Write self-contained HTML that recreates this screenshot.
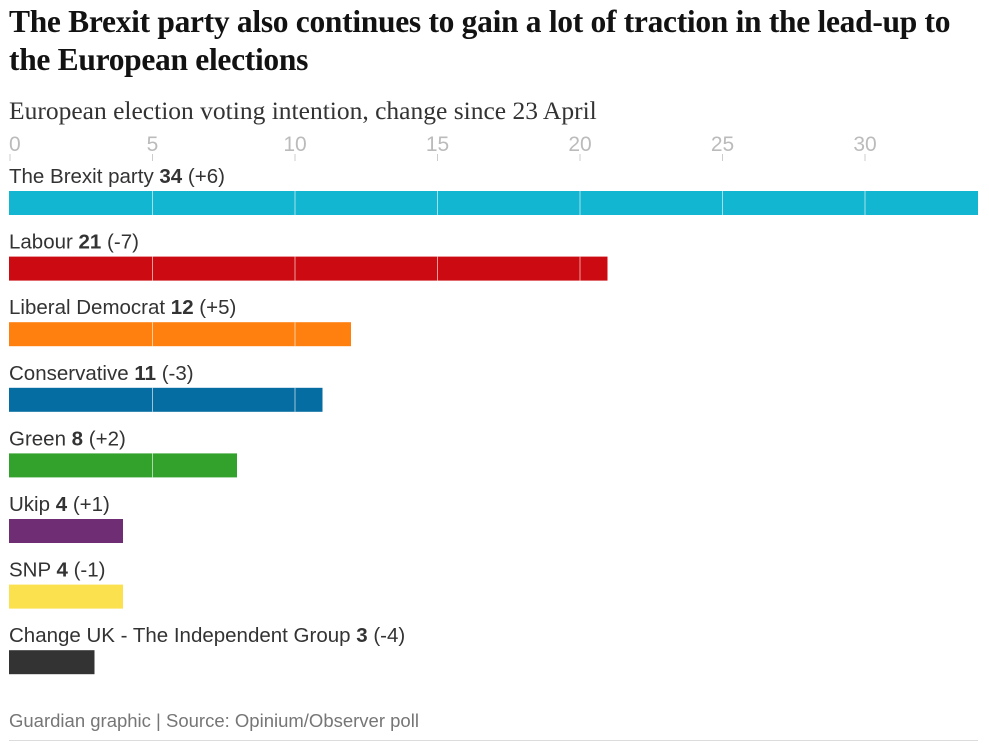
<!DOCTYPE html>
<html><head><meta charset="utf-8"><style>
body{margin:0;background:#fff;width:989px;height:747px;overflow:hidden;font-family:"Liberation Sans",sans-serif}
h1{position:absolute;left:9px;top:3px;margin:0;font-family:"Liberation Serif",serif;font-weight:bold;font-size:31.5px;line-height:38px;color:#121212;width:975px;letter-spacing:-0.3px}
.sub{position:absolute;left:9px;top:96px;font-family:"Liberation Serif",serif;font-size:25.5px;color:#333}
.foot{position:absolute;left:9px;top:710px;font-size:18.5px;color:#767676}
.rule{position:absolute;left:9px;top:740px;width:969px;height:1px;background:#dcdcdc}
</style></head><body>
<h1>The Brexit party also continues to gain a lot of traction in the lead-up to the European elections</h1>
<div class="sub">European election voting intention, change since 23 April</div>
<svg id="c" width="989" height="747" style="position:absolute;left:0;top:0"></svg>
<div class="foot">Guardian graphic | Source: Opinium/Observer poll</div>
<div class="rule"></div>
<script>
const parties=["The Brexit party","Labour","Liberal Democrat","Conservative","Green","Ukip","SNP","Change UK - The Independent Group"];
const values=[34,21,12,11,8,4,4,3];
const changes=["+6","-7","+5","-3","+2","+1","-1","-4"];
const colors=["#13b6d0","#cc0a11","#ff7f0f","#056da1","#33a22c","#6f2d74","#fbe14e","#333333"];
const ticks=[0,5,10,15,20,25,30];
const NS="http://www.w3.org/2000/svg";
const svg=document.getElementById('c');
const x=v=>9+v*28.5;
const rowY=i=>191+i*65.6;
function mk(t,a){const e=document.createElementNS(NS,t);for(const k in a)e.setAttribute(k,a[k]);svg.appendChild(e);return e;}
ticks.forEach(t=>{
  const l=mk('line',{x1:x(t)+1,x2:x(t)+1,y1:154,y2:161,stroke:'#ccc','stroke-width':1});
  
  
  const tx=mk('text',{x:t===0?x(t):x(t)+1,y:151,'font-size':21,fill:'#bbb','font-family':'Liberation Sans, sans-serif','text-anchor':t===0?'start':'middle'});
  tx.textContent=t;
  
  
});
parties.forEach((p,i)=>{
  const y=rowY(i);
  const tx=mk('text',{x:9,y:y-8,'font-size':20.5,fill:'#333','font-family':'Liberation Sans, sans-serif'});
  tx.innerHTML=p+' <tspan font-weight="bold">'+values[i]+'</tspan> ('+changes[i]+')';
  
  
  const r=mk('rect',{x:x(0),y:y,width:x(values[i])-x(0),height:24,fill:colors[i]});
  
  
  ticks.forEach(t=>{if(t>0&&t<values[i]){
    const g=mk('line',{x1:x(t)+1,x2:x(t)+1,y1:y,y2:y+24,stroke:'#fff','stroke-opacity':0.6,'stroke-width':1});
    
    
  }});
});
</script>
</body></html>
